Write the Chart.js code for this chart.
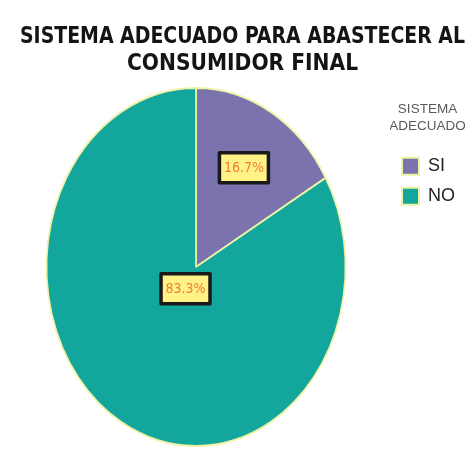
<!DOCTYPE html>
<html>
<head>
<meta charset="utf-8">
<script src="https://cdn.jsdelivr.net/npm/chart.js@4"></script>
<style>
  body { margin: 0; background: #fff; }
</style>
</head>
<body>
<canvas id="myChart" width="472" height="452"></canvas>
<script>
const ctx = document.getElementById('myChart');

const categorias = ['SI', 'NO'];
const porcentajes = [16.7, 83.3];
const colores = ['#7a73ad', '#13a69d'];

const narrow = "'Liberation Sans Narrow', 'DejaVu Sans Condensed', sans-serif";

// the pie is drawn squashed horizontally, like an ellipse, and nudged left
const escalaX = 0.835;
const desplazX = -9;
// how far out along each slice its label sits (fraction of radius)
const posEtiqueta = [0.64, 0.14];

const elipse = {
  id: 'elipse',
  beforeDatasetsDraw(chart) {
    const arc = chart.getDatasetMeta(0).data[0];
    const c = chart.ctx;
    c.save();
    c.translate(arc.x + desplazX, arc.y);
    c.scale(escalaX, 1);
    c.translate(-arc.x, -arc.y);
  },
  afterDatasetsDraw(chart) {
    const c = chart.ctx;
    c.restore();

    // value boxes
    chart.getDatasetMeta(0).data.forEach((arc, i) => {
      const mid = (arc.startAngle + arc.endAngle) / 2;
      const r = arc.outerRadius * posEtiqueta[i];
      const x = arc.x + desplazX + Math.cos(mid) * r * escalaX;
      const y = arc.y + Math.sin(mid) * r;
      const w = 49, h = 30;
      c.save();
      c.fillStyle = '#fff385';
      c.fillRect(x - w / 2, y - h / 2, w, h);
      c.lineWidth = 3.5;
      c.lineJoin = 'round';
      c.strokeStyle = '#1a1a1a';
      c.strokeRect(x - w / 2, y - h / 2, w, h);
      c.fillStyle = '#f07c3c';
      c.font = '14px ' + narrow;
      c.textAlign = 'center';
      c.textBaseline = 'middle';
      c.fillText(porcentajes[i].toFixed(1) + '%', x, y + 1);
      c.restore();
    });
  }
};

new Chart(ctx, {
  type: 'pie',
  data: {
    labels: categorias,
    datasets: [{
      data: porcentajes,
      backgroundColor: colores,
      borderColor: '#eef2a4',
      borderWidth: 2
    }]
  },
  options: {
    responsive: false,
    devicePixelRatio: 1,
    animation: false,
    layout: { padding: { top: 0, left: 20, right: 7, bottom: 5 } },
    plugins: {
      tooltip: { enabled: false },
      title: {
        display: true,
        text: ['SISTEMA ADECUADO PARA ABASTECER AL', 'CONSUMIDOR FINAL'],
        color: '#141414',
        font: { family: narrow, size: 22.5, weight: 'bold', lineHeight: 1.2 },
        padding: { top: 24, bottom: 9 }
      },
      legend: {
        position: 'right',
        align: 'start',
        fullSize: false,
        title: {
          display: true,
          text: ['SISTEMA', 'ADECUADO'],
          color: '#5a5a5a',
          font: { family: "'Liberation Sans', Arial, sans-serif", size: 13.5, lineHeight: 1.2 },
          padding: { top: 16, bottom: 26 }
        },
        labels: {
          color: '#222',
          font: { family: "'Liberation Sans', Arial, sans-serif", size: 18 },
          boxWidth: 17,
          boxHeight: 17,
          padding: 12
        }
      }
    }
  },
  plugins: [elipse]
});
</script>
</body>
</html>
